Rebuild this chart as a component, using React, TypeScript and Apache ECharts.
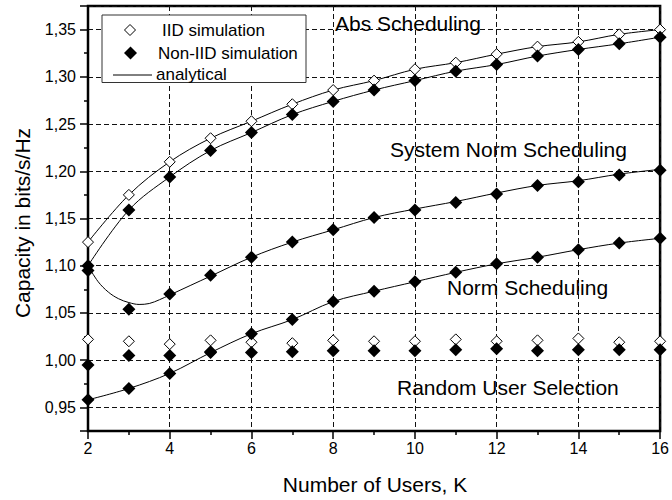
import React, { useEffect, useRef } from 'react';
import * as echarts from 'echarts';

const users = [2, 3, 4, 5, 6, 7, 8, 9, 10, 11, 12, 13, 14, 15, 16];

const absIID = [1.125, 1.175, 1.210, 1.235, 1.253, 1.271, 1.286, 1.296, 1.308, 1.315, 1.324, 1.332, 1.337, 1.345, 1.350];
const absNonIID = [1.100, 1.159, 1.194, 1.222, 1.241, 1.260, 1.274, 1.286, 1.296, 1.306, 1.313, 1.322, 1.329, 1.335, 1.342];
const sysNormNonIID = [1.095, 1.054, 1.070, 1.090, 1.109, 1.125, 1.138, 1.151, 1.159, 1.167, 1.176, 1.185, 1.189, 1.196, 1.201];
const sysNormCurveK = [2, 2.25, 2.5, 2.75, 3, 3.25, 3.5, 3.75, 4, 5, 6, 7, 8, 9, 10, 11, 12, 13, 14, 15, 16];
const sysNormCurve = [1.100, 1.083, 1.072, 1.065, 1.061, 1.059, 1.060, 1.064, 1.069, 1.089, 1.109, 1.125, 1.138, 1.151, 1.160, 1.168, 1.177, 1.185, 1.190, 1.197, 1.202];
const normNonIID = [0.958, 0.970, 0.986, 1.008, 1.028, 1.043, 1.062, 1.073, 1.083, 1.093, 1.102, 1.109, 1.117, 1.124, 1.129];
const randIID = [1.022, 1.020, 1.017, 1.021, 1.019, 1.018, 1.021, 1.020, 1.020, 1.022, 1.020, 1.021, 1.023, 1.019, 1.020];
const randNonIID = [0.995, 1.005, 1.005, 1.009, 1.008, 1.009, 1.010, 1.010, 1.010, 1.011, 1.012, 1.010, 1.011, 1.011, 1.011];

const yTickLabels = ['0,95', '1,00', '1,05', '1,10', '1,15', '1,20', '1,25', '1,30', '1,35'];
const xTickLabels = ['2', '4', '6', '8', '10', '12', '14', '16'];
const legendNames = ['IID simulation', 'Non-IID simulation', 'analytical'];

const annotations = [
  { text: 'Abs Scheduling', x: 335, y: 23 },
  { text: 'System Norm Scheduling', x: 390, y: 149 },
  { text: 'Norm Scheduling', x: 447, y: 287 },
  { text: 'Random User Selection', x: 397, y: 387 },
];

const FONT = '"Liberation Sans", Arial, Helvetica, sans-serif';

const pair = (xs: number[], ys: number[]) => xs.map((x, i) => [x, ys[i]]);

const diamond = (cx: number, cy: number, r: number) => [
  [cx, cy - r],
  [cx + r, cy],
  [cx, cy + r],
  [cx - r, cy],
];

export default function App() {
  const ref = useRef<HTMLDivElement>(null);
  useEffect(() => {
    const chart = echarts.init(ref.current!, null, { renderer: 'svg' });
    const lineSeries = (data: number[][]) => ({
      type: 'line',
      name: 'analytical',
      data,
      smooth: 0.35,
      symbol: 'none',
      lineStyle: { color: '#000', width: 1 },
      itemStyle: { color: '#000' },
      z: 2,
    });
    const iidSeries = (data: number[][]) => ({
      type: 'scatter',
      name: 'IID simulation',
      data,
      symbol: 'diamond',
      symbolSize: 11,
      itemStyle: { color: '#fff', borderColor: '#000', borderWidth: 1, opacity: 1 },
      z: 3,
    });
    const nonIidSeries = (data: number[][]) => ({
      type: 'scatter',
      name: 'Non-IID simulation',
      data,
      symbol: 'diamond',
      symbolSize: 13,
      itemStyle: { color: '#000', opacity: 1 },
      z: 4,
    });
    const legendText = (text: string, x: number, y: number) => ({
      type: 'text',
      x,
      y,
      z: 21,
      style: { text, fontSize: 17, fontFamily: FONT, fill: '#000', verticalAlign: 'middle', align: 'left' },
    });
    const option = {
      animation: false,
      backgroundColor: '#fff',
      textStyle: { fontFamily: FONT },
      grid: {
        left: 88,
        right: 9,
        top: 6,
        bottom: 69,
        show: true,
        borderColor: '#000',
        borderWidth: 2.5,
        backgroundColor: 'transparent',
      },
      xAxis: {
        type: 'value',
        min: 2,
        max: 16,
        interval: 2,
        axisLine: { show: true, lineStyle: { color: '#000', width: 2 } },
        axisTick: { show: true, inside: false, length: 8, lineStyle: { color: '#000', width: 1.5 } },
        minorTick: { show: true, splitNumber: 2, length: 4, lineStyle: { color: '#000', width: 1.5 } },
        axisLabel: {
          fontSize: 16,
          color: '#000',
          fontFamily: FONT,
          margin: 9,
          formatter: (v: number) => {
            const s = String(Math.round(v));
            return xTickLabels.includes(s) ? s : '';
          },
        },
        splitLine: { show: true, lineStyle: { color: '#111', width: 1, type: [5, 3] } },
      },
      yAxis: {
        type: 'value',
        min: 0.925,
        max: 1.375,
        splitNumber: 9,
        axisLine: { show: true, lineStyle: { color: '#000', width: 2 } },
        axisTick: { show: true, inside: false, length: 8, lineStyle: { color: '#000', width: 1.5 } },
        minorTick: { show: true, splitNumber: 2, length: 4, lineStyle: { color: '#000', width: 1.5 } },
        axisLabel: {
          fontSize: 16,
          color: '#000',
          fontFamily: FONT,
          margin: 12,
          formatter: (v: number) => {
            const s = v.toFixed(2).replace('.', ',');
            return yTickLabels.includes(s) && Math.abs(v * 20 - Math.round(v * 20)) < 1e-6 ? s : '';
          },
        },
        splitLine: { show: true, lineStyle: { color: '#111', width: 1, type: [5, 3] } },
      },
      graphic: [
        ...annotations.map((a) => ({
          type: 'text',
          x: a.x,
          y: a.y,
          z: 10,
          style: { text: a.text, fontSize: 21, fontFamily: FONT, fill: '#000', verticalAlign: 'middle', align: 'left' },
        })),
        {
          type: 'text',
          x: 375,
          y: 484,
          style: { text: 'Number of Users, K', fontSize: 21, fontFamily: FONT, fill: '#000', align: 'center', verticalAlign: 'middle' },
        },
        {
          type: 'text',
          x: 22,
          y: 223,
          rotation: Math.PI / 2,
          style: { text: 'Capacity in bits/s/Hz', fontSize: 21, fontFamily: FONT, fill: '#000', align: 'center', verticalAlign: 'middle' },
        },
        // legend box
        {
          type: 'rect',
          z: 20,
          shape: { x: 102, y: 15, width: 204, height: 67.5 },
          style: { fill: '#fff', stroke: '#333', lineWidth: 1 },
        },
        {
          type: 'polygon',
          z: 21,
          shape: { points: diamond(130, 30, 5.5) },
          style: { fill: '#fff', stroke: '#000', lineWidth: 1 },
        },
        {
          type: 'polygon',
          z: 21,
          shape: { points: diamond(130.5, 53, 6.5) },
          style: { fill: '#000' },
        },
        {
          type: 'line',
          z: 21,
          shape: { x1: 113, y1: 75, x2: 152, y2: 75 },
          style: { stroke: '#000', lineWidth: 1 },
        },
        legendText(legendNames[0], 162, 30),
        legendText(legendNames[1], 158, 53),
        legendText(legendNames[2], 156, 74),
      ],
      series: [
        lineSeries(pair(users, absIID)),
        lineSeries(pair(users, absNonIID)),
        lineSeries(pair(sysNormCurveK, sysNormCurve)),
        lineSeries(pair(users, normNonIID)),
        iidSeries(pair(users, absIID)),
        iidSeries(pair(users, randIID)),
        nonIidSeries(pair(users, absNonIID)),
        nonIidSeries(pair(users, sysNormNonIID)),
        nonIidSeries(pair(users, normNonIID)),
        nonIidSeries(pair(users, randNonIID)),
      ],
    };
    chart.setOption(option as any);
    return () => chart.dispose();
  }, []);
  return <div ref={ref} style={{ position: 'absolute', left: 0, top: 0, width: 672, height: 500 }} />;
}
